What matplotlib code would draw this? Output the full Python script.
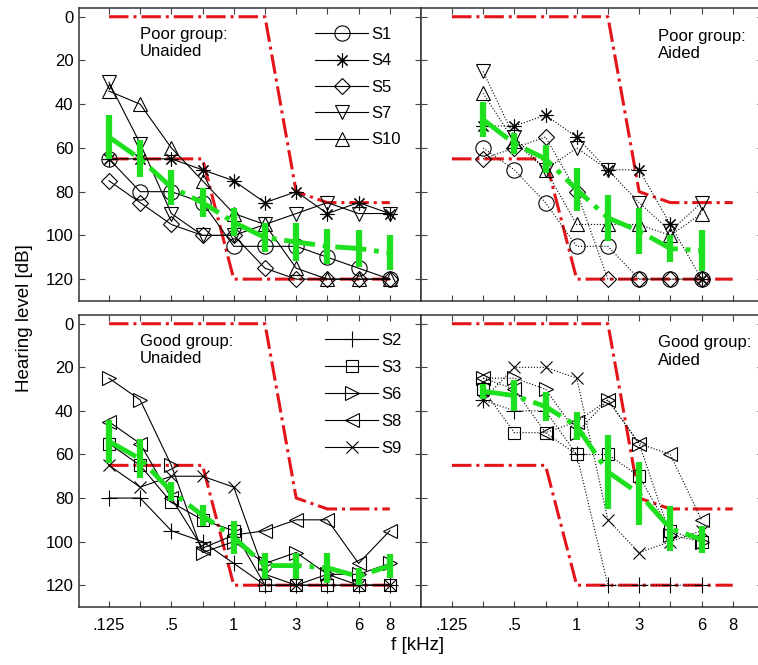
import matplotlib
matplotlib.use("Agg")
import matplotlib.pyplot as plt

plt.rcParams["font.family"] = ["Liberation Sans", "DejaVu Sans"]

# frequency axis (categorical positions, kHz)
freq_names = [".125", ".25", ".5", ".75", "1", "2", "3", "4", "6", "8"]
freq_ticklabels = [".125", "", ".5", "", "1", "", "3", "", "6", "8"]
unaided_idx = list(range(10))
aided_idx = list(range(1, 9))

# --- Poor group ---
poor_names = ["S1", "S4", "S5", "S7", "S10"]
poor_markers = ["o", (8, 2, 0), "D", "v", "^"]
poor_unaided = [
    [65, 80, 80, 85, 105, 105, 105, 110, 115, 120],   # S1
    [65, 65, 65, 70, 75, 85, 80, 90, 85, 90],         # S4
    [75, 85, 95, 100, 100, 115, 120, 120, 120, 120],  # S5
    [30, 58, 90, 100, 100, 95, 90, 85, 90, 90],       # S7
    [34, 40, 60, 75, 90, 95, 115, 120, 120, 120],     # S10
]
poor_unaided_mean = [55, 65, 78, 85, 94, 101, 103, 105, 106, 108]
poor_unaided_err = [10, 8.5, 8, 6.5, 6.5, 6.5, 8.5, 8, 8.5, 8]

poor_aided = [
    [60, 70, 85, 105, 105, 120, 120, 120],   # S1
    [50, 50, 45, 55, 70, 70, 95, 120],       # S4
    [65, 60, 55, 80, 120, 120, 120, 120],    # S5
    [25, 55, 70, 60, 70, 85, 98, 85],        # S7
    [35, 57, 70, 95, 95, 95, 100, 90],       # S10
]
poor_aided_mean = [47, 58, 65, 79, 92, 98, 106, 107]
poor_aided_err = [8, 5, 6.5, 10, 10.5, 10.5, 6, 9.5]

# --- Good group ---
good_names = ["S2", "S3", "S6", "S8", "S9"]
good_markers = ["+", "s", ">", "<", "x"]
good_unaided = [
    [80, 80, 95, 100, 110, 120, 120, 120, 120, 120],  # S2
    [55, 65, 82, 90, 95, 120, 120, 120, 120, 120],    # S3
    [25, 35, 65, 105, 100, 110, 105, 115, 115, 110],  # S6
    [45, 55, 80, 103, 97, 95, 90, 90, 110, 95],       # S8
    [65, 75, 70, 70, 75, 115, 120, 115, 120, 120],    # S9
]
good_unaided_mean = [54, 62, 77, 88, 98, 111, 111, 112, 116, 111]
good_unaided_err = [10, 9, 4.5, 5, 7.5, 6, 6, 7, 4, 5.5]

good_aided = [
    [35, 40, 40, 60, 120, 120, 120, 120],   # S2
    [30, 50, 50, 60, 60, 70, 95, 100],      # S3
    [25, 25, 30, 50, 35, 55, 97, 100],      # S6
    [25, 30, 50, 45, 35, 55, 60, 90],       # S8
    [35, 20, 20, 25, 90, 105, 100, 95],     # S9
]
good_aided_mean = [31, 33, 38, 47, 68, 78, 94, 99]
good_aided_err = [3.5, 7, 6.5, 6.5, 17, 14.5, 10.5, 6]

# red boundary lines
upper_x = [0, 5, 6, 7, 9]
upper_y = [0, 0, 80, 85, 85]
lower_x = [0, 3, 4, 9]
lower_y = [65, 65, 120, 120]

GREEN = "#1ee01e"
RED = "#e3141a"
MARKER_SIZES = {"D": 8, "s": 8, "x": 8, "o": 11, "+": 12}


def draw_panel(ax, x, series, names, markers, mean, err, aided, title):
    ax.plot(upper_x, upper_y, "-.", color=RED, lw=2.2, zorder=2)
    ax.plot(lower_x, lower_y, "-.", color=RED, lw=2.2, zorder=2)

    for vals, name, mk in zip(series, names, markers):
        size = MARKER_SIZES.get(mk, 10) if isinstance(mk, str) else 10
        ax.plot(x, vals, ":" if aided else "-", color="black",
                lw=0.8, marker=mk, ms=size, mfc="none", mec="black",
                mew=0.8, label=name, zorder=3)

    ax.errorbar(x, mean, yerr=err, fmt="none", ecolor=GREEN,
                elinewidth=4.5, capsize=0, zorder=4)
    ax.plot(x, mean, "-.", color=GREEN, lw=3.5, zorder=4)

    if aided:
        ax.text(0.694, 0.93, title, transform=ax.transAxes, fontsize=12,
                va="top", ha="left", linespacing=1.2)
    else:
        ax.text(0.178, 0.935, title, transform=ax.transAxes, fontsize=12,
                va="top", ha="left", linespacing=1.2)

    ax.set_ylim(130, -4)
    ax.set_yticks([0, 20, 40, 60, 80, 100, 120])
    ax.set_xticks(unaided_idx)
    ax.tick_params(direction="in", top=True, right=True, length=4,
                   width=0.8, color="#444444", labelsize=12)
    ax.tick_params(axis="y", pad=4)
    ax.tick_params(axis="x", pad=8)
    for sp in ax.spines.values():
        sp.set_linewidth(1.1)
        sp.set_color("#333333")


fig = plt.figure(figsize=(7.58, 6.65), dpi=100)
W, H = 758.0, 665.0
pw = 342 / W
ax_pu = fig.add_axes([79 / W, 1 - 301 / H, pw, 293 / H])
ax_pa = fig.add_axes([421 / W, 1 - 301 / H, pw, 293 / H])
ax_gu = fig.add_axes([79 / W, 1 - 607 / H, pw, 292 / H])
ax_ga = fig.add_axes([421 / W, 1 - 607 / H, pw, 292 / H])

draw_panel(ax_pu, unaided_idx, poor_unaided, poor_names, poor_markers,
           poor_unaided_mean, poor_unaided_err, False, "Poor group:\nUnaided")
draw_panel(ax_pa, aided_idx, poor_aided, poor_names, poor_markers,
           poor_aided_mean, poor_aided_err, True, "Poor group:\nAided")
draw_panel(ax_gu, unaided_idx, good_unaided, good_names, good_markers,
           good_unaided_mean, good_unaided_err, False, "Good group:\nUnaided")
draw_panel(ax_ga, aided_idx, good_aided, good_names, good_markers,
           good_aided_mean, good_aided_err, True, "Good group:\nAided")

for ax in [ax_pu, ax_gu]:
    ax.set_xlim(-0.96, 10.0)
for ax in [ax_pa, ax_ga]:
    ax.set_xlim(-0.99, 9.97)

for ax in [ax_pu, ax_pa]:
    ax.set_xticklabels([])
for ax in [ax_gu, ax_ga]:
    ax.set_xticklabels(freq_ticklabels)
for ax in [ax_pa, ax_ga]:
    ax.set_yticklabels([])

ax_pu.legend(loc="upper left", bbox_to_anchor=(0.69, 0.935), frameon=False,
             fontsize=12, handlelength=3.2, handletextpad=0.2,
             labelspacing=0.68, borderpad=0, borderaxespad=0)
ax_gu.legend(loc="upper left", bbox_to_anchor=(0.719, 0.94), frameon=False,
             fontsize=12, handlelength=3.2, handletextpad=0.2,
             labelspacing=0.72, borderpad=0, borderaxespad=0)

fig.text(25 / W, 1 - 318 / H, "Hearing level [dB]", rotation=90,
         fontsize=13.5, ha="center", va="center")
fig.text(418 / W, 1 - 646 / H, "f [kHz]", fontsize=13.5,
         ha="center", va="center")

plt.savefig("out.png", dpi=100)
plt.close()
